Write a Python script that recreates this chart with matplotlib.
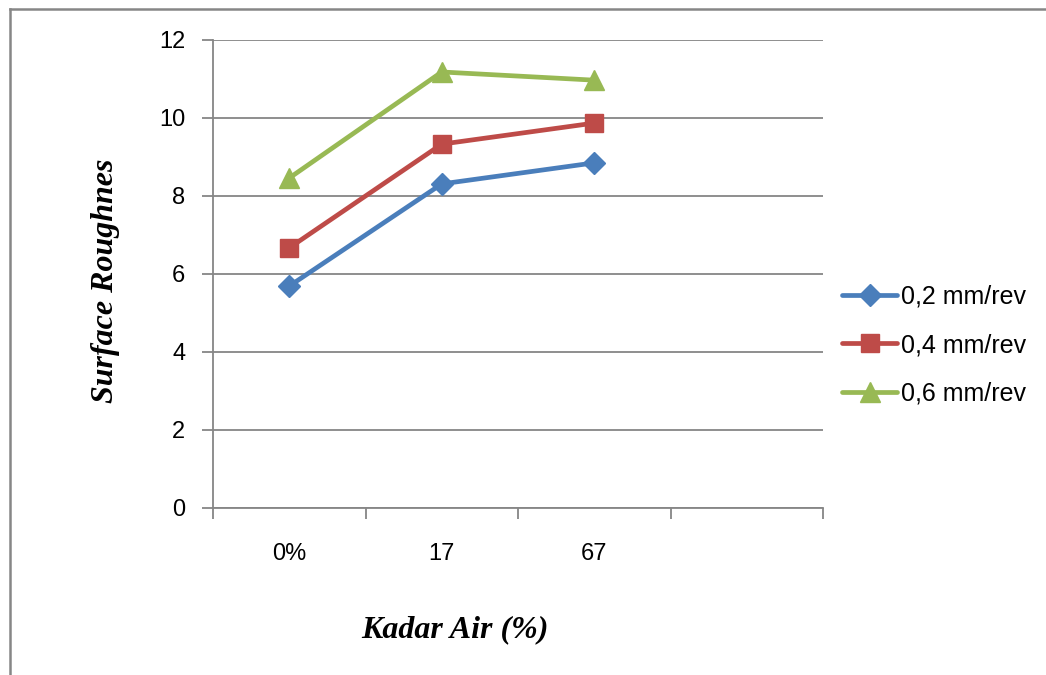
import matplotlib
matplotlib.use("Agg")
import matplotlib.pyplot as plt
from matplotlib.lines import Line2D
import numpy as np

categories = ["0%", "17", "67", ""]
series_names = ["0,2 mm/rev", "0,4 mm/rev", "0,6 mm/rev"]
s02 = [5.69, 8.31, 8.85]
s04 = [6.67, 9.33, 9.87]
s06 = [8.46, 11.18, 10.97]
y_ticks = [0, 2, 4, 6, 8, 10, 12]

colors = ["#4A7EBB", "#BE4B48", "#98B954"]
markers = ["D", "s", "^"]
msizes = [11.5, 13, 14]
tick_font = ["Liberation Sans Narrow", "Liberation Sans", "DejaVu Sans"]
grid_c = "#868686"

W, H = 1046, 675
fig = plt.figure(figsize=(W / 100, H / 100), dpi=100)
ax = fig.add_axes([213 / W, 1 - 508 / H, (823 - 213) / W, (508 - 40) / H])

x = np.arange(len(s02))
for vals, name, c, m, ms in zip([s02, s04, s06], series_names, colors, markers, msizes):
    ax.plot(x, vals, color=c, lw=3.4, marker=m, markersize=ms, label=name,
            solid_capstyle="round", solid_joinstyle="round")

ax.set_xlim(-0.5, len(categories) - 0.5)
ax.set_ylim(0, 12)
ax.set_yticks(y_ticks)
ax.set_yticklabels([str(v) for v in y_ticks], fontfamily=tick_font, fontsize=17)
ax.yaxis.grid(True, color=grid_c, lw=1.3)
ax.set_axisbelow(True)

bounds = np.arange(-0.5, len(categories), 1.0)
ax.set_xticks(bounds)
ax.set_xticklabels([""] * len(bounds))
ax.set_xticks(np.arange(len(categories)), minor=True)
ax.set_xticklabels(categories, minor=True, fontfamily=tick_font, fontsize=17)
ax.tick_params(axis="x", which="major", direction="out", length=8, color=grid_c, width=1.3)
ax.tick_params(axis="x", which="minor", length=0, pad=25)
ax.tick_params(axis="y", direction="out", length=8, color=grid_c, width=1.3, pad=12)

for s in ["top", "right"]:
    ax.spines[s].set_visible(False)
for s in ["left", "bottom"]:
    ax.spines[s].set_color(grid_c)
    ax.spines[s].set_linewidth(1.3)

fig.text(455 / W, 1 - 630 / H, "Kadar Air (%)", ha="center", va="center",
         fontfamily="Liberation Serif", fontweight="bold", fontstyle="italic", fontsize=23)
fig.text(106 / W, 1 - 281 / H, "Surface Roughnes", ha="center", va="center", rotation=90,
         fontfamily="Liberation Serif", fontweight="bold", fontstyle="italic", fontsize=23)

leg = ax.legend(loc="center left", bbox_to_anchor=(842 / W, 1 - 345 / H),
                bbox_transform=fig.transFigure, frameon=False,
                prop={"family": tick_font, "size": 18}, handlelength=2.2,
                handletextpad=0.15, labelspacing=0.98, borderpad=0, borderaxespad=0)

fig.add_artist(Line2D([10 / W, 1.0], [1 - 8.5 / H, 1 - 8.5 / H], color=grid_c, lw=1.8,
                      transform=fig.transFigure))
fig.add_artist(Line2D([10 / W, 10 / W], [1 - 8.5 / H, 0], color=grid_c, lw=1.8,
                      transform=fig.transFigure))

fig.savefig("out.png", dpi=100)
